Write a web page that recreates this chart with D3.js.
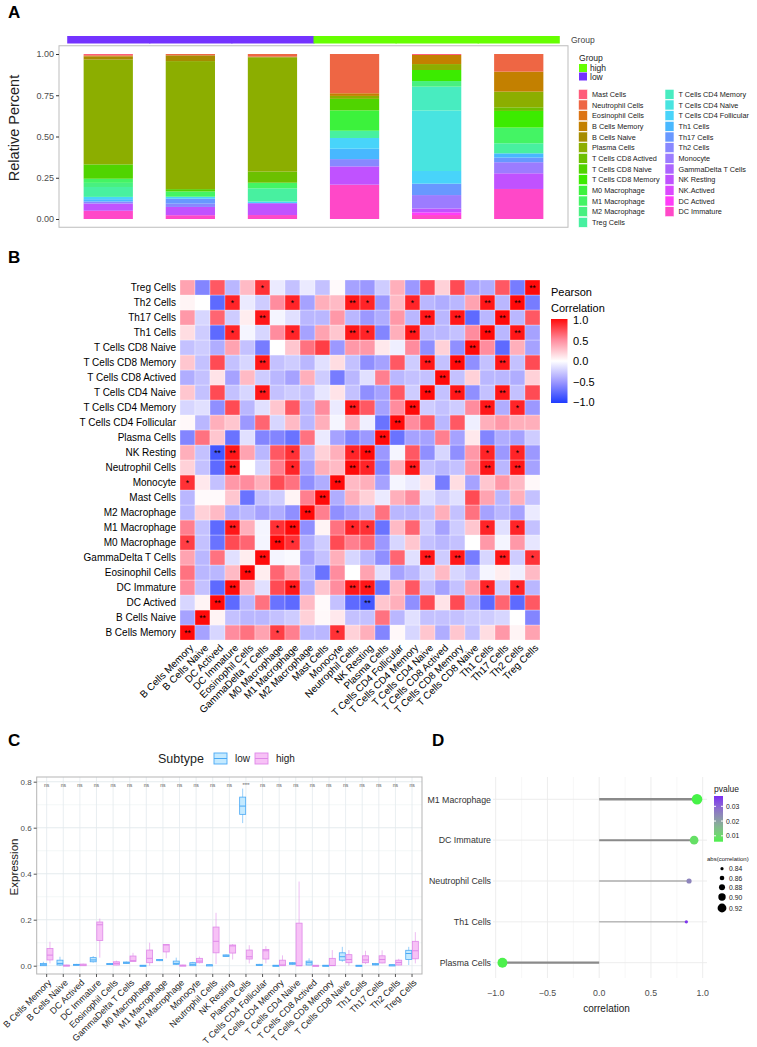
<!DOCTYPE html>
<html>
<head>
<meta charset="utf-8">
<script src="https://cdn.jsdelivr.net/npm/d3@7"></script>
<style>
  body { margin: 0; background: #fff; }
  svg { display: block; font-family: "Liberation Sans", Arial, sans-serif; }
</style>
</head>
<body>
<svg id="fig" width="757" height="1047"></svg>
<script>
// ---------- Panel A data ----------
const sampleIds = ["S1", "S2", "S3", "S4", "S5", "S6"];
const sampleGroup = ["low", "low", "low", "high", "high", "high"];
const groupColors = { high: "#66ff00", low: "#7433ff" };
const cellTypes = ["Mast Cells", "Neutrophil Cells", "Eosinophil Cells", "B Cells Memory", "B Cells Naive",
  "Plasma Cells", "T Cells CD8 Actived", "T Cells CD8 Naive", "T Cells CD8 Memory", "M0 Macrophage",
  "M1 Macrophage", "M2 Macrophage", "Treg Cells", "T Cells CD4 Memory", "T Cells CD4 Naive",
  "T Cells CD4 Follicular", "Th1 Cells", "Th17 Cells", "Th2 Cells", "Monocyte", "GammaDelta T Cells",
  "NK Resting", "NK.Actived", "DC Actived", "DC Immature"];
const cellColors = ["#ff5c7a", "#ee6644", "#dc7414", "#c38000", "#a68c00", "#8cae00", "#6cc000", "#50d400",
  "#3ceb00", "#3cf23c", "#44f464", "#48f080", "#48f0a0", "#48ecc0", "#48e4e0", "#48d4fa", "#48b8ff",
  "#6898ff", "#8888ff", "#9c7cff", "#ac64ff", "#c052ff", "#dc48ff", "#ff3cf8", "#ff48c8"];
// share of each cell type per sample, same order as cellTypes
const barShares = [
  [0.008, 0, 0.006, 0, 0.02, 0.635, 0, 0.087, 0, 0, 0.025, 0.025, 0.06, 0, 0, 0.014, 0.014, 0, 0.012, 0, 0, 0.044, 0, 0, 0.05],
  [0, 0.008, 0, 0, 0.035, 0.776, 0, 0.014, 0, 0, 0.032, 0, 0, 0, 0, 0.012, 0, 0.03, 0.02, 0, 0, 0.05, 0, 0, 0.023],
  [0, 0.016, 0, 0, 0.004, 0.693, 0.067, 0, 0, 0, 0.034, 0, 0.08, 0, 0, 0.01, 0, 0, 0, 0, 0, 0.072, 0, 0, 0.024],
  [0, 0.238, 0, 0.016, 0, 0.018, 0, 0.07, 0, 0.123, 0, 0, 0.044, 0, 0, 0.065, 0.063, 0, 0.044, 0, 0, 0.111, 0, 0, 0.208],
  [0.006, 0, 0, 0.055, 0, 0.036, 0, 0, 0.067, 0, 0, 0.034, 0, 0.145, 0.366, 0.077, 0, 0.069, 0, 0.081, 0, 0.024, 0, 0.016, 0.024],
  [0, 0.107, 0, 0.121, 0, 0.095, 0.022, 0, 0.101, 0, 0.095, 0, 0.061, 0, 0, 0, 0.026, 0.028, 0, 0.067, 0, 0.095, 0, 0, 0.182]
];
const ticksA = [0, 0.25, 0.5, 0.75, 1];

// ---------- Panel B data ----------
const hmNames = ["B Cells Memory", "B Cells Naive", "DC Actived", "DC Immature", "Eosinophil Cells",
  "GammaDelta T Cells", "M0 Macrophage", "M1 Macrophage", "M2 Macrophage", "Mast Cells", "Monocyte",
  "Neutrophil Cells", "NK Resting", "Plasma Cells", "T Cells CD4 Follicular", "T Cells CD4 Memory",
  "T Cells CD4 Naive", "T Cells CD8 Actived", "T Cells CD8 Memory", "T Cells CD8 Naive", "Th1 Cells",
  "Th17 Cells", "Th2 Cells", "Treg Cells"];
const corrMatrix = [
  [1, -0.45, -0.2, 0.5, 0.6, 0.4, 0.8, 0.55, -0.35, -0.35, 0.85, 0.2, 0.35, -0.6, 0.03, -0.2, 0.25, -0.4, 0.25, -0.3, 0.15, 0.45, 0.05, 0.4],
  [-0.45, 1, 0.05, -0.3, -0.35, -0.35, -0.3, -0.25, 0.2, 0.03, 0.1, -0.3, -0.3, 0.6, -0.35, -0.15, -0.3, -0.3, -0.3, -0.25, -0.25, -0.2, 0, -0.6],
  [-0.2, 0.05, 1, -0.75, -0.35, 0.6, -0.7, -0.75, 0.3, 0.02, -0.3, -0.75, -0.85, 0.25, 0.35, -0.55, 0.75, 0.12, 0.75, -0.4, -0.75, 0.65, -0.75, 0.7],
  [0.5, -0.3, -0.75, 1, 0.35, -0.15, 0.75, 0.95, -0.4, 0.25, 0.5, 0.95, 0.95, -0.7, 0.3, 0.7, -0.3, -0.45, -0.3, 0.4, 0.9, -0.25, 0.9, -0.35],
  [0.6, -0.35, -0.35, 0.3, 1, 0.08, 0.65, 0.4, -0.35, -0.7, 0.5, 0, 0.4, -0.15, -0.45, -0.35, -0.2, 0.3, -0.2, -0.3, -0.05, 0.08, -0.08, 0.3],
  [0.4, -0.35, 0.6, -0.15, 0.08, 1, -0.05, -0.03, -0.45, -0.3, 0.35, -0.2, -0.35, -0.55, 0.65, -0.15, 0.95, -0.25, 0.95, -0.65, -0.2, 0.95, -0.25, 0.85],
  [0.8, -0.3, -0.7, 0.75, 0.65, -0.05, 1, 0.85, -0.4, -0.25, 0.75, 0.55, 0.65, -0.5, -0.2, 0.25, -0.3, -0.35, -0.3, 0, 0.45, -0.05, 0.45, -0.12],
  [0.55, -0.3, -0.75, 0.95, 0.35, -0.05, 0.85, 1, -0.55, 0.05, 0.6, 0.9, 0.85, -0.7, 0.3, 0.65, -0.25, -0.45, -0.25, 0.25, 0.9, -0.15, 0.9, -0.3],
  [-0.35, 0.2, 0.3, -0.4, -0.35, -0.45, -0.4, -0.55, 1, 0.55, -0.55, -0.45, -0.35, 0.6, -0.35, -0.35, -0.3, 0.35, -0.3, 0.6, -0.45, -0.35, -0.45, -0.1],
  [-0.35, 0.02, 0.02, 0.25, -0.7, -0.3, -0.25, 0.05, 0.55, 1, -0.4, 0.35, 0.2, -0.1, 0.35, 0.5, -0.15, -0.25, -0.15, 0.75, 0.4, -0.35, 0.35, -0.3],
  [0.85, 0.1, -0.3, 0.45, 0.5, 0.35, 0.75, 0.6, -0.55, -0.4, 1, 0.3, 0.35, -0.45, -0.05, -0.1, 0.12, -0.65, 0.15, -0.45, 0.25, 0.45, 0.3, 0.03],
  [0.2, -0.3, -0.75, 0.95, 0, -0.2, 0.55, 0.9, -0.45, 0.35, 0.3, 1, 0.9, -0.6, 0.35, 0.95, -0.3, -0.35, -0.3, 0.45, 0.95, -0.35, 0.95, -0.45],
  [0.35, -0.3, -0.85, 0.95, 0.4, -0.35, 0.7, 0.85, -0.35, 0.2, 0.35, 0.9, 1, -0.5, -0.05, 0.7, -0.55, -0.2, -0.55, 0.45, 0.9, -0.5, 0.9, -0.5],
  [-0.6, 0.6, 0.25, -0.7, -0.15, -0.6, -0.6, -0.7, 0.6, -0.1, -0.45, -0.6, -0.5, 1, -0.7, -0.45, -0.45, 0.55, -0.45, 0.1, -0.6, -0.4, -0.45, -0.25],
  [0.03, -0.35, 0.35, 0.25, -0.5, 0.65, -0.2, 0.3, -0.35, 0.35, -0.05, 0.35, -0.08, -0.7, 1, 0.5, 0.7, -0.35, 0.7, -0.08, 0.35, 0.45, 0.35, 0.35],
  [-0.2, -0.15, -0.55, 0.75, -0.35, -0.15, 0.25, 0.7, -0.35, 0.5, -0.1, 0.95, 0.7, -0.45, 0.5, 1, -0.25, -0.3, -0.25, 0.5, 0.95, -0.4, 0.9, -0.5],
  [0.25, -0.3, 0.75, -0.3, -0.2, 0.95, -0.3, -0.25, -0.3, -0.12, 0.12, -0.3, -0.55, -0.45, 0.7, -0.25, 1, -0.3, 0.95, -0.55, -0.3, 0.95, -0.3, 0.75],
  [-0.4, -0.3, 0.12, -0.45, 0.3, -0.25, -0.35, -0.45, 0.35, -0.25, -0.65, -0.35, -0.15, 0.55, -0.35, -0.3, -0.3, 1, -0.3, 0.2, -0.35, -0.35, -0.4, 0.2],
  [0.25, -0.3, 0.75, -0.3, -0.2, 0.95, -0.3, -0.25, -0.35, -0.15, 0.15, -0.3, -0.55, -0.45, 0.7, -0.25, 0.95, -0.3, 1, -0.55, -0.3, 0.95, -0.3, 0.75],
  [-0.3, -0.25, -0.4, 0.4, -0.3, -0.65, 0, 0.25, 0.6, 0.8, -0.5, 0.45, 0.45, 0.1, -0.08, 0.5, -0.55, 0.2, -0.55, 1, 0.5, -0.75, 0.35, -0.45],
  [0.15, -0.25, -0.75, 0.9, -0.05, -0.2, 0.5, 0.9, -0.45, 0.4, 0.25, 0.95, 0.9, -0.6, 0.35, 0.95, -0.35, -0.35, -0.3, 0.5, 1, -0.35, 0.95, -0.45],
  [0.45, -0.2, 0.65, -0.25, 0.08, 0.95, -0.05, -0.15, -0.35, -0.35, 0.45, -0.35, -0.5, -0.4, 0.45, -0.35, 0.95, -0.35, 0.95, -0.75, -0.35, 1, -0.35, 0.7],
  [0.05, 0, -0.75, 0.9, -0.1, -0.25, 0.5, 0.9, -0.45, 0.35, 0.3, 0.95, 0.9, -0.5, 0.3, 0.9, -0.35, -0.4, -0.35, 0.4, 0.95, -0.35, 1, -0.65],
  [0.4, -0.6, 0.7, -0.35, 0.3, 0.85, -0.1, -0.3, -0.1, -0.3, 0.02, -0.45, -0.5, -0.25, 0.35, -0.5, 0.75, 0.2, 0.75, -0.45, -0.4, 0.7, -0.65, 1]
];
// significance per cell: 0 none, 1 "*", 2 "**"
const starRows = [
  "200000100010000000000000", "020000000000000000000000", "002000000000200000000000",
  "000200020002200000001010", "000020000000000000000000", "000002000000000020200201",
  "100000210000000000000000", "000200120001100000001010", "000000002000000000000000",
  "000000000200000000000000", "100000000020000000000000", "000200010002100200002020",
  "002200010001200000001010", "000000000000020000000000", "000000000000002000000000",
  "000000000002000200002010", "000002000000000020200200", "000000000000000002000000",
  "000002000000000020200200", "000000000000000000020000", "000100010002100200002020",
  "000002000000000020200200", "000100010002100100002020", "000001000000000000000002"
];
const corrTicks = [1, 0.5, 0, -0.5, -1];

// ---------- Panel C data ----------
const boxCats = ["B Cells Memory", "B Cells Naive", "DC Actived", "DC Immature", "Eosinophil Cells",
  "GammaDelta T Cells", "M0 Macrophage", "M1 Macrophage", "M2 Macrophage", "Monocyte", "Neutrophil Cells",
  "NK Resting", "Plasma Cells", "T Cells CD4 Follicular", "T Cells CD4 Memory", "T Cells CD4 Naive",
  "T Cells CD8 Actived", "T Cells CD8 Memory", "T Cells CD8 Naive", "Th1 Cells", "Th17 Cells", "Th2 Cells",
  "Treg Cells"];
// [min, q1, median, q3, max]
const boxLow = [
  [0, 0, 0.004, 0.01, 0.017], [0, 0.003, 0.01, 0.024, 0.039], [0.002, 0.003, 0.005, 0.006, 0.008],
  [0.013, 0.017, 0.025, 0.035, 0.042], [0.004, 0.005, 0.007, 0.01, 0.012], [0.008, 0.01, 0.013, 0.016, 0.018],
  [0, 0, 0.001, 0.002, 0.003], [0.02, 0.022, 0.025, 0.027, 0.029], [0.003, 0.006, 0.01, 0.02, 0.035],
  [0, 0, 0.006, 0.013, 0.017], [0.001, 0.002, 0.003, 0.004, 0.005], [0.038, 0.04, 0.043, 0.047, 0.049],
  [0.62, 0.658, 0.694, 0.733, 0.77], [0, 0.001, 0.003, 0.006, 0.008], [0, 0, 0.001, 0.002, 0.003],
  [0.004, 0.006, 0.01, 0.013, 0.016], [0.002, 0.003, 0.013, 0.02, 0.032], [0, 0, 0.001, 0.002, 0.003],
  [0.017, 0.024, 0.039, 0.056, 0.082], [0, 0, 0.001, 0.002, 0.003], [0.002, 0.003, 0.006, 0.01, 0.012],
  [0.001, 0.002, 0.003, 0.004, 0.005], [0.003, 0.027, 0.053, 0.067, 0.082]
];
const boxHigh = [
  [0.01, 0.025, 0.046, 0.075, 0.104], [0, 0, 0.001, 0.003, 0.004], [0, 0, 0.003, 0.007, 0.009],
  [0.035, 0.11, 0.178, 0.19, 0.205], [0.002, 0.003, 0.01, 0.017, 0.022], [0.018, 0.018, 0.022, 0.042, 0.056],
  [0, 0.013, 0.032, 0.068, 0.1], [0.032, 0.06, 0.09, 0.092, 0.094], [0, 0, 0.001, 0.003, 0.004],
  [0.01, 0.013, 0.02, 0.032, 0.04], [0.007, 0.056, 0.106, 0.168, 0.23], [0.027, 0.055, 0.086, 0.09, 0.094],
  [0.01, 0.029, 0.039, 0.068, 0.089], [0.01, 0.029, 0.065, 0.07, 0.085], [0, 0, 0.003, 0.024, 0.045],
  [0, 0, 0, 0.185, 0.366], [0, 0, 0.001, 0.002, 0.003], [0, 0, 0.001, 0.032, 0.068],
  [0, 0.013, 0.027, 0.048, 0.068], [0.007, 0.013, 0.025, 0.043, 0.065], [0.01, 0.012, 0.027, 0.043, 0.067],
  [0.002, 0.003, 0.014, 0.024, 0.03], [0.01, 0.03, 0.065, 0.106, 0.146]
];
const boxSig = ["ns", "ns", "ns", "ns", "ns", "ns", "ns", "ns", "ns", "ns", "ns", "ns", "****", "ns", "ns", "ns",
  "ns", "ns", "ns", "ns", "ns", "ns", "ns"];
const ticksC = [0, 0.2, 0.4, 0.6, 0.8];

// ---------- Panel D data ----------
const lolliCells = ["M1 Macrophage", "DC Immature", "Neutrophil Cells", "Th1 Cells", "Plasma Cells"];
const lolliCor = [0.945, 0.917, 0.868, 0.842, -0.935];
const lolliP = [0.0055, 0.009, 0.025, 0.036, 0.006];
const pTicks = [0.01, 0.02, 0.03];
const sizeTicks = [0.84, 0.86, 0.88, 0.90, 0.92];
const ticksD = [-1, -0.5, 0, 0.5, 1];

const svg = d3.select("#fig");
const ink = "#222";
const greyText = "#4d4d4d";

function panelLetter(t, x, y) {
  svg.append("text").attr("x", x).attr("y", y).attr("font-size", 17).attr("font-weight", "bold")
    .attr("fill", "#000").text(t);
}

// ================= Panel A =================
panelLetter("A", 8, 18);
const xA = d3.scaleBand().domain(sampleIds).range([59, 568]).paddingInner(0.4).paddingOuter(0.3);
const yA = d3.scaleLinear().domain([0, 1]).range([219, 54]);
const gA = svg.append("g");

const stackRows = sampleIds.map((s, i) => {
  const o = { sample: s };
  cellTypes.forEach((c, k) => { o[c] = barShares[i][k]; });
  return o;
});
const series = d3.stack().keys(cellTypes.slice().reverse())(stackRows);
const colorA = d3.scaleOrdinal().domain(cellTypes).range(cellColors);

gA.selectAll("g.layer").data(series).join("g")
  .attr("fill", d => colorA(d.key))
  .selectAll("rect").data(d => d).join("rect")
  .attr("x", d => xA(d.data.sample))
  .attr("width", xA.bandwidth())
  .attr("y", d => yA(d[1]))
  .attr("height", d => Math.max(0, yA(d[0]) - yA(d[1])));

gA.append("rect").attr("x", 59).attr("y", 45.75).attr("width", 509).attr("height", 181.5)
  .attr("fill", "none").attr("stroke", "#bdbdbd").attr("stroke-width", 1);

// group strip (slight overlap to avoid seams)
const halfGap = xA.step() * xA.paddingInner() / 2;
gA.selectAll("rect.grp").data(sampleIds).join("rect")
  .attr("x", d => xA(d) - halfGap)
  .attr("width", (d, i) => xA.step() + (i < sampleIds.length - 1 ? 1 : 0))
  .attr("y", 36).attr("height", 7.5)
  .attr("fill", (d, i) => groupColors[sampleGroup[i]]);
gA.append("text").attr("x", 571).attr("y", 42.5).attr("font-size", 8.5).attr("fill", "#444").text("Group");

const axA = gA.append("g").attr("transform", "translate(59,0)")
  .call(d3.axisLeft(yA).tickValues(ticksA).tickFormat(d3.format(".2f")).tickSize(3).tickPadding(2));
axA.select(".domain").remove();
axA.selectAll("line").attr("stroke", "#333");
axA.selectAll("text").attr("font-size", 9).attr("fill", greyText).attr("font-family", null);

gA.append("text").attr("transform", "translate(19,128) rotate(-90)").attr("text-anchor", "middle")
  .attr("font-size", 14.5).attr("fill", ink).text("Relative Percent");

// legends
gA.append("text").attr("x", 579).attr("y", 61).attr("font-size", 8.6).attr("fill", ink).text("Group");
["high", "low"].forEach((gname, i) => {
  gA.append("rect").attr("x", 579).attr("y", 64 + i * 8.5).attr("width", 8).attr("height", 8)
    .attr("fill", groupColors[gname]);
  gA.append("text").attr("x", 590).attr("y", 71 + i * 8.5).attr("font-size", 8.5).attr("fill", ink).text(gname);
});
cellTypes.forEach((c, k) => {
  const col = k < 13 ? 0 : 1;
  const row = k < 13 ? k : k - 13;
  const lx = col === 0 ? 578.5 : 665;
  const ly = 89.3 + row * 10.67;
  gA.append("rect").attr("x", lx).attr("y", ly).attr("width", 9).attr("height", 10)
    .attr("fill", cellColors[k]).attr("stroke", "#fff").attr("stroke-width", 0.6);
  gA.append("text").attr("x", lx + 13.5).attr("y", ly + 7.6).attr("font-size", 7.3).attr("fill", ink).text(c);
});

// ================= Panel B =================
panelLetter("B", 8, 263);
const xB = d3.scaleBand().domain(hmNames).range([180, 540]);
const yB = d3.scaleBand().domain(hmNames.slice().reverse()).range([280, 640]);
const colorB = d3.scaleLinear().domain([-1, -0.5, 0, 0.5, 1])
  .range(["#1f3bff", "#9c98ff", "#ffffff", "#ff8c9e", "#ff0a0a"]);
const gB = svg.append("g");
const cells = [];
hmNames.forEach((rn, i) => hmNames.forEach((cn, j) => {
  cells.push({ row: rn, col: cn, v: corrMatrix[i][j], s: +starRows[i][j] });
}));
gB.selectAll("rect.cell").data(cells).join("rect")
  .attr("x", d => xB(d.col)).attr("y", d => yB(d.row))
  .attr("width", xB.bandwidth()).attr("height", yB.bandwidth())
  .attr("fill", d => colorB(d.v)).attr("stroke", "#ffffff").attr("stroke-width", 0.5).attr("stroke-opacity", 0.6);
gB.selectAll("text.star").data(cells.filter(d => d.s > 0)).join("text")
  .attr("x", d => xB(d.col) + xB.bandwidth() / 2).attr("y", d => yB(d.row) + yB.bandwidth() / 2 + 3.6)
  .attr("text-anchor", "middle").attr("font-size", 8.5).attr("fill", "#000")
  .text(d => d.s === 2 ? "**" : "*");
gB.selectAll("text.rowlab").data(hmNames).join("text")
  .attr("x", 176).attr("y", d => yB(d) + yB.bandwidth() / 2 + 3.6)
  .attr("text-anchor", "end").attr("font-size", 10).attr("fill", "#000").text(d => d);
gB.selectAll("text.collab").data(hmNames).join("text")
  .attr("transform", d => `translate(${xB(d) + xB.bandwidth() / 2 + 4},${646}) rotate(-45)`)
  .attr("text-anchor", "end").attr("dy", "0.35em").attr("font-size", 10).attr("fill", "#000").text(d => d);

// colour legend
const defs = svg.append("defs");
const gradB = defs.append("linearGradient").attr("id", "gradB").attr("x1", 0).attr("y1", 1).attr("x2", 0).attr("y2", 0);
d3.range(0, 1.0001, 0.05).forEach(t => {
  gradB.append("stop").attr("offset", t).attr("stop-color", colorB(-1 + 2 * t));
});
const yLegB = d3.scaleLinear().domain([-1, 1]).range([402, 320]);
gB.append("text").attr("x", 551).attr("y", 296).attr("font-size", 11).attr("fill", "#000").text("Pearson");
gB.append("text").attr("x", 551).attr("y", 312).attr("font-size", 11).attr("fill", "#000").text("Correlation");
gB.append("rect").attr("x", 551).attr("y", 319).attr("width", 16.5).attr("height", 84).attr("fill", "url(#gradB)");
gB.selectAll("text.leg").data(corrTicks).join("text")
  .attr("x", 573).attr("y", d => yLegB(d) + 4)
  .attr("font-size", 11).attr("fill", "#000")
  .text(d => d3.format(".1f")(d).replace("-", "\u2212"));

// ================= Panel C =================
panelLetter("C", 8, 746);
const xC = d3.scaleBand().domain(boxCats).range([36.7, 422]).paddingInner(0).paddingOuter(0.1);
const yC = d3.scaleLinear().domain([0, 0.8]).range([965.7, 781.7]);
const gC = svg.append("g");
const lowStroke = "#4aa9f5", lowFill = "#c4eaff";
const highStroke = "#df88e8", highFill = "#f7c2f6";

gC.append("rect").attr("x", 36.7).attr("y", 777).attr("width", 385.3).attr("height", 197).attr("fill", "#fff");
// grid
d3.range(0.1, 0.85, 0.1).forEach(v => {
  gC.append("line").attr("x1", 36.7).attr("x2", 422).attr("y1", yC(v)).attr("y2", yC(v))
    .attr("stroke", "#edf2f4").attr("stroke-width", 0.6);
});
ticksC.forEach(v => {
  gC.append("line").attr("x1", 36.7).attr("x2", 422).attr("y1", yC(v)).attr("y2", yC(v))
    .attr("stroke", "#e3eaee").attr("stroke-width", 0.8);
});
boxCats.forEach(c => {
  const cx = xC(c) + xC.bandwidth() / 2;
  gC.append("line").attr("x1", cx).attr("x2", cx).attr("y1", 777).attr("y2", 974)
    .attr("stroke", "#e3eaee").attr("stroke-width", 0.8);
});

const bw = 6;
function drawBox(cx, d, stroke, fill) {
  gC.append("line").attr("x1", cx).attr("x2", cx).attr("y1", yC(d[0])).attr("y2", yC(d[4]))
    .attr("stroke", stroke).attr("stroke-width", 0.8).attr("stroke-opacity", 0.7);
  const top = yC(d[3]), h = Math.max(yC(d[1]) - yC(d[3]), 1.2);
  gC.append("rect").attr("x", cx - bw / 2).attr("y", top).attr("width", bw).attr("height", h)
    .attr("fill", fill).attr("stroke", stroke).attr("stroke-width", 0.8);
  gC.append("line").attr("x1", cx - bw / 2).attr("x2", cx + bw / 2).attr("y1", yC(d[2])).attr("y2", yC(d[2]))
    .attr("stroke", stroke).attr("stroke-width", 1);
}
boxCats.forEach((c, i) => {
  const cx = xC(c) + xC.bandwidth() / 2;
  drawBox(cx - 3.3, boxLow[i], lowStroke, lowFill);
  drawBox(cx + 3.3, boxHigh[i], highStroke, highFill);
  gC.append("text").attr("x", cx).attr("y", 787).attr("text-anchor", "middle")
    .attr("font-size", boxSig[i] === "ns" ? 5 : 4.5).attr("fill", "#555").text(boxSig[i]);
});
gC.append("rect").attr("x", 36.7).attr("y", 777).attr("width", 385.3).attr("height", 197)
  .attr("fill", "none").attr("stroke", "#b5b5b5").attr("stroke-width", 1);

const axCy = gC.append("g").attr("transform", "translate(36.7,0)")
  .call(d3.axisLeft(yC).tickValues(ticksC).tickFormat(d3.format(".1f")).tickSize(3).tickPadding(2));
axCy.select(".domain").remove();
axCy.selectAll("line").attr("stroke", "#555");
axCy.selectAll("text").attr("font-size", 8).attr("fill", greyText).attr("font-family", null);

boxCats.forEach(c => {
  const cx = xC(c) + xC.bandwidth() / 2;
  gC.append("line").attr("x1", cx).attr("x2", cx).attr("y1", 974).attr("y2", 977).attr("stroke", "#555");
  gC.append("text").attr("transform", `translate(${cx + 3},${981}) rotate(-45)`)
    .attr("text-anchor", "end").attr("dy", "0.35em").attr("font-size", 9).attr("fill", ink).text(c);
});
gC.append("text").attr("transform", "translate(18,867) rotate(-90)").attr("text-anchor", "middle")
  .attr("font-size", 11.5).attr("fill", ink).text("Expression");

// subtype legend
gC.append("text").attr("x", 158).attr("y", 763).attr("font-size", 12.5).attr("fill", ink).text("Subtype");
[["low", lowStroke, lowFill, 214], ["high", highStroke, highFill, 255]].forEach(([lab, st, fl, lx]) => {
  gC.append("rect").attr("x", lx).attr("y", 753).attr("width", 13).attr("height", 11)
    .attr("fill", fl).attr("stroke", st).attr("stroke-width", 0.9);
  gC.append("line").attr("x1", lx).attr("x2", lx + 13).attr("y1", 758.5).attr("y2", 758.5)
    .attr("stroke", st).attr("stroke-width", 1);
  gC.append("text").attr("x", lx + 21).attr("y", 762).attr("font-size", 10).attr("fill", ink).text(lab);
});

// ================= Panel D =================
panelLetter("D", 432, 746);
const xD = d3.scaleLinear().domain([-1, 1]).range([495.7, 702.7]);
const yD = d3.scalePoint().domain(lolliCells).range([799.3, 962.7]);
const colorD = d3.scaleLinear().domain([0.006, 0.037]).range(["#4cf04c", "#7b2cf2"]).interpolate(d3.interpolateLab);
const sizeD = d3.scaleLinear().domain([0.84, 0.945]).range([1.6, 5.3]);
const gD = svg.append("g");
const panelL = 493, panelR = 707, panelT = 777, panelB = 978;
[-0.75, -0.25, 0.25, 0.75].forEach(v => {
  gD.append("line").attr("x1", xD(v)).attr("x2", xD(v)).attr("y1", panelT).attr("y2", panelB)
    .attr("stroke", "#f2f2f2").attr("stroke-width", 0.6);
});
ticksD.forEach(v => {
  gD.append("line").attr("x1", xD(v)).attr("x2", xD(v)).attr("y1", panelT).attr("y2", panelB)
    .attr("stroke", "#ebebeb").attr("stroke-width", 0.9);
});
lolliCells.forEach(c => {
  gD.append("line").attr("x1", panelL).attr("x2", panelR).attr("y1", yD(c)).attr("y2", yD(c))
    .attr("stroke", "#ebebeb").attr("stroke-width", 0.9);
});
lolliCells.forEach((c, i) => {
  const a = Math.abs(lolliCor[i]);
  gD.append("line").attr("x1", xD(0)).attr("x2", xD(lolliCor[i])).attr("y1", yD(c)).attr("y2", yD(c))
    .attr("stroke", "#8a8a8a").attr("stroke-width", 0.8 + (a - 0.84) * 15);
});
lolliCells.forEach((c, i) => {
  gD.append("circle").attr("cx", xD(lolliCor[i])).attr("cy", yD(c)).attr("r", sizeD(Math.abs(lolliCor[i])))
    .attr("fill", colorD(lolliP[i]));
  gD.append("text").attr("x", 491).attr("y", yD(c) + 3.2).attr("text-anchor", "end")
    .attr("font-size", 8.8).attr("fill", "#333").text(c);
});
ticksD.forEach(v => {
  gD.append("text").attr("x", xD(v)).attr("y", 996).attr("text-anchor", "middle")
    .attr("font-size", 8.8).attr("fill", greyText).text(d3.format(".1f")(v));
});
gD.append("text").attr("x", 606.5).attr("y", 1012).attr("text-anchor", "middle")
  .attr("font-size", 10).attr("fill", ink).text("correlation");

// pvalue legend
gD.append("text").attr("x", 714).attr("y", 792).attr("font-size", 8.5).attr("fill", ink).text("pvalue");
const gradD = defs.append("linearGradient").attr("id", "gradD").attr("x1", 0).attr("y1", 1).attr("x2", 0).attr("y2", 0);
d3.range(0, 1.0001, 0.1).forEach(t => {
  gradD.append("stop").attr("offset", t).attr("stop-color", colorD(0.006 + t * 0.031));
});
const yLegD = d3.scaleLinear().domain([0.006, 0.037]).range([841.7, 796]);
gD.append("rect").attr("x", 714).attr("y", 796).attr("width", 9).attr("height", 45.7).attr("fill", "url(#gradD)");
pTicks.forEach(v => {
  gD.append("line").attr("x1", 714).attr("x2", 716).attr("y1", yLegD(v)).attr("y2", yLegD(v)).attr("stroke", "#fff");
  gD.append("line").attr("x1", 721).attr("x2", 723).attr("y1", yLegD(v)).attr("y2", yLegD(v)).attr("stroke", "#fff");
  gD.append("text").attr("x", 726).attr("y", yLegD(v) + 2.6).attr("font-size", 6.8).attr("fill", ink)
    .text(d3.format(".2f")(v));
});
// size legend
gD.append("text").attr("x", 707).attr("y", 861).attr("font-size", 6).attr("fill", ink).text("abs(correlation)");
sizeTicks.forEach((v, i) => {
  const cy = [868.7, 878, 887.3, 897, 908][i];
  gD.append("circle").attr("cx", 722).attr("cy", cy).attr("r", sizeD(v)).attr("fill", "#000");
  gD.append("text").attr("x", 729).attr("y", cy + 2.5).attr("font-size", 6.8).attr("fill", ink)
    .text(d3.format(".2f")(v));
});
</script>
</body>
</html>
